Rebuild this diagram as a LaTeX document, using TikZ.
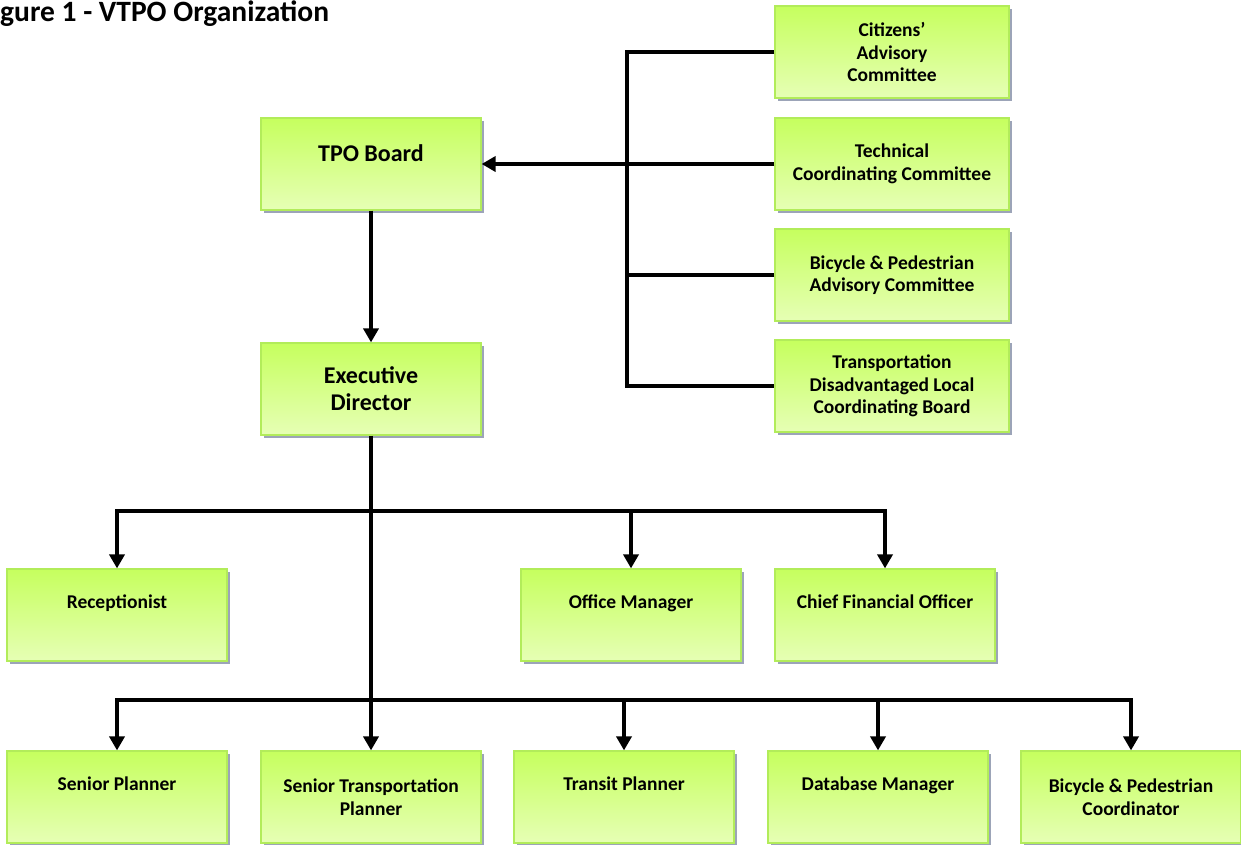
\documentclass[tikz,border=0pt]{standalone}
\usepackage{fontspec}
\setmainfont{Carlito}
\usetikzlibrary{arrows.meta, positioning, shadows}

\definecolor{boxtop}{HTML}{C6FF5E}
\definecolor{boxbottom}{HTML}{E6FFB5}
\definecolor{boxedge}{HTML}{B2EC5A}
\definecolor{boxshadow}{HTML}{9CA4B8}

\begin{document}
\begin{tikzpicture}[
  x=1pt, y=-1pt,
  box/.style={rectangle, draw=boxedge, line width=1.2pt, top color=boxtop, bottom color=boxbottom,
    minimum width=220pt, minimum height=92pt, inner sep=2pt, align=center,
    font=\bfseries\fontsize{19.5}{22.5}\selectfont,
    drop shadow={shadow xshift=3pt, shadow yshift=-3pt, fill=boxshadow, opacity=1}},
  wide/.style={minimum width=234pt},
  big/.style={font=\bfseries\fontsize{24}{27}\selectfont},
  oneline/.style={text height=14pt, text depth=28pt},
  link/.style={draw, line width=4pt, line join=miter},
  arr/.style={link, -{Triangle[width=15pt, length=14pt]}}
]
\useasboundingbox (0,0) rectangle (1241,844);

\node[anchor=west, font=\bfseries\fontsize{29.5}{33}\selectfont, inner sep=0pt] (title) at (0,14) {gure 1 - VTPO Organization};

% board and director
\node[box, big, text height=17pt, text depth=22pt] (tpo) at (371,164) {TPO Board};
\node[box, big] (exec) at (371,389) {Executive\\Director};

% committees
\node[box, wide] (cac) at (892,52) {Citizens'\\Advisory\\Committee};
\node[box, wide] (tcc) at (892,164) {Technical\\Coordinating Committee};
\node[box, wide] (bpac) at (892,275) {Bicycle \& Pedestrian\\Advisory Committee};
\node[box, wide] (tdlcb) at (892,386) {Transportation\\Disadvantaged Local\\Coordinating Board};

% staff
\node[box, oneline] (recep) at (117,615) {Receptionist};
\node[box, oneline] (offm) at (631,615) {Office Manager};
\node[box, oneline] (cfo) at (885,615) {Chief Financial Officer};

\node[box, oneline] (sp) at (117,797) {Senior Planner};
\node[box] (stp) at (371,797) {Senior Transportation\\Planner};
\node[box, oneline] (tp) at (624,797) {Transit Planner};
\node[box, oneline] (dbm) at (878,797) {Database Manager};
\node[box] (bpc) at (1131,797) {Bicycle \& Pedestrian\\Coordinator};

\coordinate (bar) at (627,0);
\coordinate (upper) at (371,511);
\coordinate (lower) at (371,700);

% committee links
\draw[link] (cac.west) -| (bar |- tdlcb.west) -- (tdlcb.west);
\draw[link] (bpac.west) -- (bpac.west -| bar);
\draw[arr] (tcc.west) -- (tpo.east);

% staff links
\draw[arr] (tpo) -- (exec);
\draw[arr] (exec) -- (stp);
\draw[arr] (upper) -| (recep);
\draw[arr] (upper) -| (offm);
\draw[arr] (upper) -| (cfo);
\draw[arr] (lower) -| (sp);
\draw[arr] (lower) -| (tp);
\draw[arr] (lower) -| (dbm);
\draw[arr] (lower) -| (bpc);

\end{tikzpicture}
\end{document}
